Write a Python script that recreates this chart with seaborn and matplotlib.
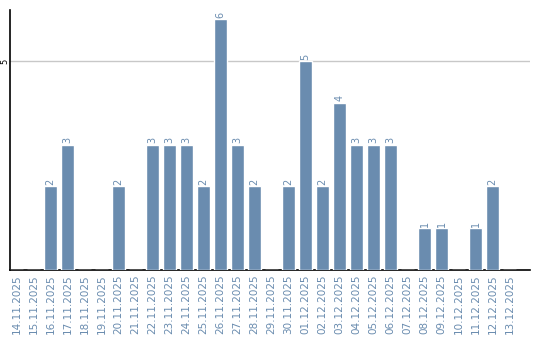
import matplotlib
matplotlib.use("Agg")
import matplotlib.pyplot as plt
import seaborn as sns
import pandas as pd

dates = ["14.11.2025", "15.11.2025", "16.11.2025", "17.11.2025", "18.11.2025",
         "19.11.2025", "20.11.2025", "21.11.2025", "22.11.2025", "23.11.2025",
         "24.11.2025", "25.11.2025", "26.11.2025", "27.11.2025", "28.11.2025",
         "29.11.2025", "30.11.2025", "01.12.2025", "02.12.2025", "03.12.2025",
         "04.12.2025", "05.12.2025", "06.12.2025", "07.12.2025", "08.12.2025",
         "09.12.2025", "10.12.2025", "11.12.2025", "12.12.2025", "13.12.2025"]
values = [0, 0, 2, 3, 0, 0, 2, 0, 3, 3, 3, 2, 6, 3, 2, 0, 2, 5, 2, 4, 3, 3, 3, 0, 1, 1, 0, 1, 2, 0]
yticks = [5]

bar_color = "#6a8caf"
text_color = "#6a8caf"

sns.set_theme(style="white")
plt.rcParams['font.family'] = ['DejaVu Sans']

df = pd.DataFrame({"date": dates, "value": values})

fig = plt.figure(figsize=(5.4, 3.4), dpi=100)
ax = fig.add_axes([10 / 540, 70 / 340, 520 / 540, 260 / 340])

sns.barplot(data=df, x="date", y="value", color=bar_color, saturation=1,
            width=0.8, ax=ax, zorder=3)

for cont in ax.containers:
    labels = [str(int(v)) if v > 0 else "" for v in cont.datavalues]
    ax.bar_label(cont, labels=labels, rotation=90, fontsize=7,
                 color=text_color, padding=1)

ax.set_ylim(0, 6.22)
ax.set_xlim(-0.38, 30.2)
ax.set_yticks(yticks)
ax.set_yticklabels([str(t) for t in yticks], rotation=90, fontsize=6,
                   color="black", va="center")
ax.yaxis.grid(True, color="#c8c8c8", linewidth=1, zorder=0)
ax.xaxis.grid(False)
ax.set_xlabel("")
ax.set_ylabel("")
ax.tick_params(axis="x", labelrotation=90, labelsize=7.5, colors=text_color,
               length=0, pad=3)
ax.tick_params(axis="y", length=0, pad=0.5)

for s in ["top", "right"]:
    ax.spines[s].set_visible(False)
for s in ["left", "bottom"]:
    ax.spines[s].set_visible(True)
    ax.spines[s].set_color("black")
    ax.spines[s].set_linewidth(1.2)

fig.savefig("out.png", dpi=100)
